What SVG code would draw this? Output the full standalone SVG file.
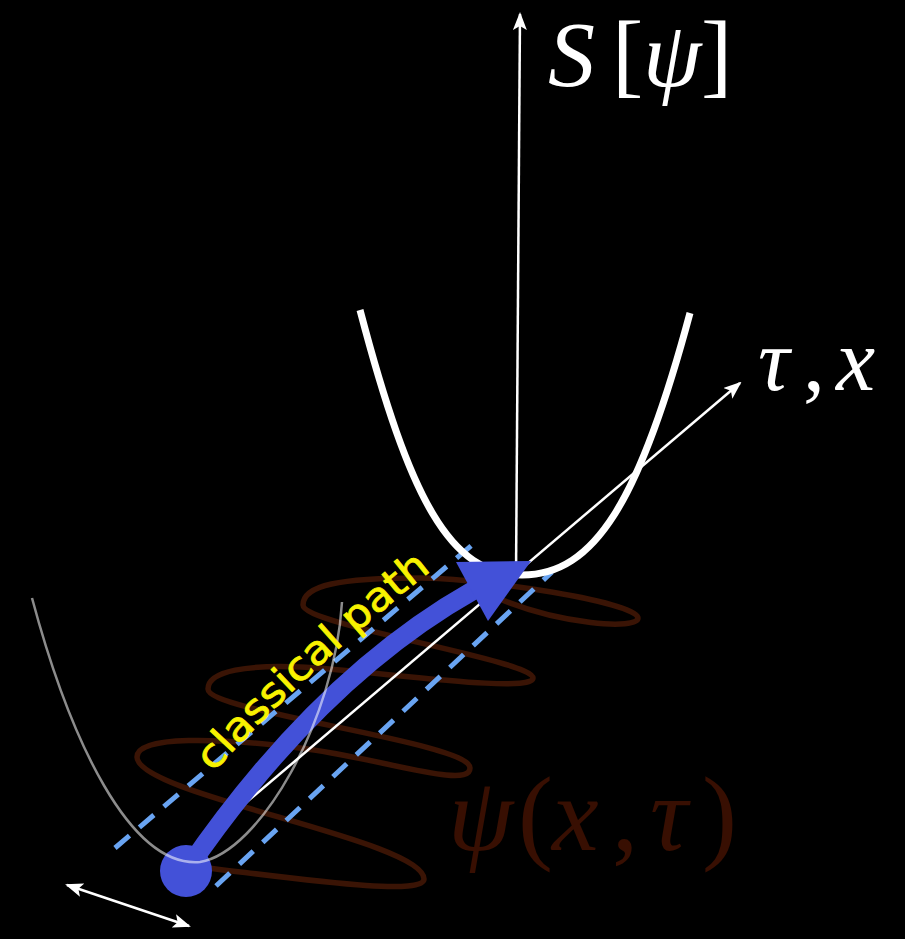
<svg xmlns="http://www.w3.org/2000/svg" width="905" height="939" viewBox="0 0 905 939">
  <defs>
    <marker id="ah" markerUnits="userSpaceOnUse" markerWidth="18" markerHeight="14" viewBox="0 0 18 14" refX="16" refY="7" orient="auto-start-reverse">
      <path d="M0,0 L18,7 L0,14 L4,7 z" fill="#ffffff"/>
    </marker>
    <path id="tp" d="M190,800 Q290,680 460,548" fill="none"/>
  </defs>
  <style>
    .wave { fill: none; stroke: #3a1405; stroke-width: 5.5; stroke-linecap: round; stroke-linejoin: round; }
    .dash { fill: none; stroke: #69a4f2; stroke-width: 5; stroke-dasharray: 19 13; }
    .thin { fill: none; stroke: #ffffff; stroke-width: 2.5; }
    .math { font-family: "Liberation Serif", "DejaVu Serif", serif; fill: #ffffff; }
    .it { font-style: italic; }
  </style>
  <rect width="905" height="939" fill="#000000"/>

  <g id="wavefunction">
    <path class="wave" d="M190,866 C280,876 424,898 424,879 C424,840 137,795 137,757 C137,735 220,738 300,748 C380,758 470,790 470,768 C470,742 208,712 208,689 C208,670 250,665 300,667 C360,669 533,695 533,678 C533,660 303,625 303,605 C303,585 340,578 420,578 C480,578 638,602 638,618 C638,630 560,625 495,597"/>
  </g>

  <g id="fluctuation-band">
    <line class="dash" x1="115" y1="848" x2="472" y2="545"/>
    <line class="dash" x1="216" y1="886" x2="552" y2="572"/>
  </g>

  <g id="connectors">
    <line class="thin" x1="228" y1="818" x2="740" y2="383" marker-end="url(#ah)"/>
    <line class="thin" x1="516" y1="575" x2="520" y2="14" marker-end="url(#ah)"/>
    <line class="thin" x1="67" y1="885" x2="189" y2="926" marker-start="url(#ah)" marker-end="url(#ah)"/>
  </g>

  <g id="action-parabola">
    <path d="M360,310 C410,500 450,575 522,575 C595,575 640,500 690,313" fill="none" stroke="#ffffff" stroke-width="7"/>
  </g>

  <g id="classical-path">
    <path d="M186,871 Q318,678 474,590" fill="none" stroke="#4351d8" stroke-width="19"/>
    <polygon points="456,562 531,561 488,621" fill="#4351d8"/>
  </g>

  <g id="particle">
    <circle cx="186" cy="871" r="26" fill="#4351d8"/>
  </g>

  <g id="potential">
    <path d="M32,598 C70,740 130,868 200,862 C260,852 335,720 342,602" fill="none" stroke="#ffffff" stroke-opacity="0.55" stroke-width="2.5"/>
  </g>

  <g id="classical-path-label">
    <text font-family="DejaVu Sans, sans-serif" font-size="40" fill="#f8f200" stroke="#f8f200" stroke-width="0.8">
      <textPath href="#tp" startOffset="36" textLength="298" lengthAdjust="spacingAndGlyphs">classical path</textPath>
    </text>
  </g>

  <g id="label-action">
    <text class="math" font-size="94" y="86"><tspan class="it" x="548">S</tspan><tspan x="612">[</tspan><tspan class="it" x="643">ψ</tspan><tspan x="701">]</tspan></text>
  </g>

  <g id="label-axis">
    <text class="math" font-size="88" y="390"><tspan class="it" x="758">τ</tspan><tspan x="803">,</tspan><tspan class="it" x="836">x</tspan></text>
  </g>

  <g id="label-psi">
    <text class="math" font-size="105" y="850" style="fill:#380f02"><tspan class="it" x="448">ψ</tspan><tspan x="518">(</tspan><tspan class="it" x="552">x</tspan><tspan x="612">,</tspan><tspan class="it" x="650">τ</tspan><tspan x="702">)</tspan></text>
  </g>
</svg>
